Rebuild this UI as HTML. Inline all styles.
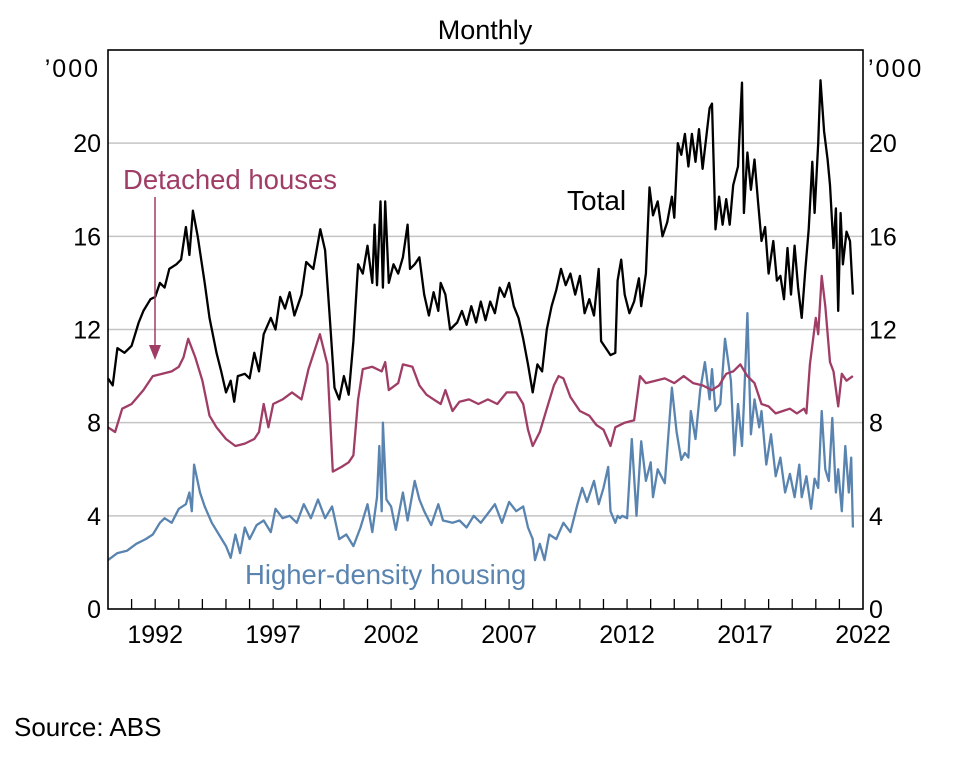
<!DOCTYPE html>
<html><head><meta charset="utf-8">
<style>
body{margin:0;background:#fff;}
svg text{font-family:"Liberation Sans",sans-serif;}
</style></head>
<body>
<svg width="976" height="764" viewBox="0 0 976 764" xmlns="http://www.w3.org/2000/svg">
<g id="grid"></g>
<g id="series"></g>
<rect x="108" y="50" width="755" height="559" fill="none" stroke="#000" stroke-width="1.6"/>
<g id="ticks"></g>
<g id="ylabels"></g>
<text x="485" y="39" font-size="27" text-anchor="middle">Monthly</text>
<text x="100" y="77" font-size="25" letter-spacing="2" text-anchor="end">’000</text>
<text x="868" y="77" font-size="25" letter-spacing="2" text-anchor="start">’000</text>
<text x="123" y="189" font-size="27.5" fill="#a03d66">Detached houses</text>
<line x1="155" y1="197" x2="155" y2="348" stroke="#a03d66" stroke-width="1.5"/>
<polygon points="149,345 161,345 155,360" fill="#a03d66"/>
<text x="567" y="210" font-size="28" fill="#000">Total</text>
<text x="245" y="584" font-size="27.5" fill="#5a84b0">Higher-density housing</text>
<text x="14" y="736" font-size="26">Source: ABS</text>
</svg>
<script>
const tickYears=[1992,1997,2002,2007,2012,2017,2022];
const yTicks=[0,4,8,12,16,20];
const totalYears=[1990.0,1990.2,1990.4,1990.7,1991.0,1991.3,1991.5,1991.8,1992.0,1992.2,1992.4,1992.6,1992.9,1993.1,1993.3,1993.45,1993.6,1993.8,1994.1,1994.3,1994.6,1994.8,1995.0,1995.2,1995.35,1995.5,1995.8,1996.0,1996.2,1996.4,1996.6,1996.9,1997.1,1997.3,1997.5,1997.7,1997.9,1998.2,1998.4,1998.7,1999.0,1999.2,1999.4,1999.6,1999.8,2000.0,2000.2,2000.4,2000.6,2000.8,2001.0,2001.2,2001.3,2001.4,2001.55,2001.65,2001.75,2001.9,2002.1,2002.3,2002.5,2002.7,2002.8,2003.0,2003.2,2003.4,2003.6,2003.8,2004.0,2004.1,2004.3,2004.5,2004.8,2005.0,2005.2,2005.4,2005.6,2005.8,2006.0,2006.2,2006.4,2006.6,2006.8,2007.0,2007.2,2007.4,2007.6,2007.8,2008.0,2008.2,2008.4,2008.6,2008.8,2009.0,2009.2,2009.4,2009.6,2009.8,2010.0,2010.2,2010.4,2010.6,2010.8,2010.9,2011.1,2011.3,2011.5,2011.6,2011.75,2011.9,2012.1,2012.3,2012.5,2012.6,2012.8,2012.95,2013.1,2013.3,2013.5,2013.7,2013.9,2014.0,2014.15,2014.3,2014.45,2014.6,2014.75,2014.9,2015.05,2015.2,2015.35,2015.5,2015.6,2015.75,2015.9,2016.05,2016.2,2016.35,2016.5,2016.7,2016.87,2016.95,2017.1,2017.25,2017.4,2017.55,2017.7,2017.85,2018.0,2018.2,2018.35,2018.5,2018.65,2018.8,2018.95,2019.1,2019.25,2019.4,2019.55,2019.7,2019.85,2019.95,2020.1,2020.2,2020.35,2020.5,2020.6,2020.75,2020.85,2020.95,2021.05,2021.15,2021.3,2021.45,2021.57];
const totalValues=[9.9,9.6,11.2,11.0,11.3,12.3,12.8,13.3,13.4,14.0,13.8,14.6,14.8,15.0,16.4,15.2,17.1,16.0,14.0,12.5,11.0,10.2,9.3,9.8,8.9,10.0,10.1,9.9,11.0,10.2,11.8,12.5,12.0,13.4,12.9,13.6,12.6,13.5,14.9,14.6,16.3,15.4,12.5,9.5,9.0,10.0,9.2,11.5,14.8,14.4,15.6,14.0,16.5,13.9,17.5,13.8,17.5,14.0,14.8,14.4,15.1,16.5,14.6,14.8,15.1,13.5,12.6,13.6,12.8,14.0,13.5,12.0,12.3,12.8,12.2,13.0,12.3,13.2,12.4,13.2,12.7,13.8,13.4,14.0,13.0,12.5,11.6,10.5,9.3,10.5,10.2,12.0,13.0,13.7,14.6,13.9,14.4,13.5,14.3,12.7,13.3,12.6,14.6,11.5,11.2,10.9,11.0,14.1,15.0,13.5,12.7,13.2,14.2,13.0,14.4,18.1,16.9,17.5,16.0,16.6,17.7,16.8,20.0,19.5,20.4,19.0,20.4,19.2,20.6,18.9,20.2,21.5,21.7,16.3,17.7,16.5,17.6,16.5,18.2,19.0,22.6,17.0,19.6,18.0,19.3,17.5,15.8,16.4,14.4,15.8,14.1,14.3,13.3,15.5,13.5,15.6,13.8,12.5,14.5,16.3,19.2,17.0,20.0,22.7,20.5,19.3,18.2,15.5,17.2,12.8,17.0,14.8,16.2,15.8,13.5];
const detachedYears=[1990.0,1990.3,1990.6,1991.0,1991.5,1991.9,1992.3,1992.7,1993.0,1993.2,1993.4,1993.7,1994.0,1994.3,1994.6,1995.0,1995.4,1995.8,1996.2,1996.4,1996.6,1996.8,1997.0,1997.4,1997.8,1998.2,1998.5,1998.98,1999.3,1999.53,1999.9,2000.2,2000.4,2000.6,2000.8,2001.2,2001.6,2001.75,2001.9,2002.3,2002.5,2002.9,2003.2,2003.5,2003.8,2004.1,2004.3,2004.6,2004.9,2005.3,2005.7,2006.1,2006.5,2006.9,2007.3,2007.6,2007.8,2008.0,2008.3,2008.6,2008.9,2009.1,2009.3,2009.6,2010.0,2010.4,2010.7,2011.0,2011.3,2011.5,2011.9,2012.3,2012.55,2012.8,2013.2,2013.6,2014.0,2014.4,2014.8,2015.2,2015.6,2015.9,2016.2,2016.5,2016.8,2017.1,2017.4,2017.7,2018.0,2018.3,2018.6,2018.9,2019.2,2019.5,2019.6,2019.75,2020.0,2020.1,2020.25,2020.4,2020.6,2020.75,2020.95,2021.1,2021.3,2021.57];
const detachedValues=[7.8,7.6,8.6,8.8,9.4,10.0,10.1,10.2,10.4,10.8,11.6,10.8,9.8,8.3,7.8,7.3,7.0,7.1,7.3,7.6,8.8,7.8,8.8,9.0,9.3,9.0,10.3,11.8,10.5,5.9,6.1,6.3,6.6,9.0,10.3,10.4,10.2,10.6,9.4,9.7,10.5,10.4,9.6,9.2,9.0,8.8,9.4,8.5,8.9,9.0,8.8,9.0,8.8,9.3,9.3,8.8,7.7,7.0,7.6,8.6,9.6,10.0,9.9,9.1,8.5,8.3,7.9,7.7,7.0,7.8,8.0,8.1,10.0,9.7,9.8,9.9,9.7,10.0,9.7,9.6,9.4,9.6,10.1,10.2,10.5,10.0,9.7,8.8,8.7,8.4,8.5,8.6,8.4,8.6,8.4,10.5,12.5,11.8,14.3,13.0,10.6,10.2,8.7,10.1,9.8,10.0];
const densityYears=[1990.0,1990.4,1990.8,1991.2,1991.6,1991.9,1992.2,1992.4,1992.7,1993.0,1993.3,1993.45,1993.55,1993.65,1993.9,1994.1,1994.4,1994.7,1995.0,1995.2,1995.4,1995.6,1995.8,1996.0,1996.3,1996.6,1996.9,1997.1,1997.4,1997.7,1998.0,1998.3,1998.6,1998.9,1999.2,1999.5,1999.8,2000.1,2000.4,2000.7,2001.0,2001.2,2001.4,2001.5,2001.6,2001.65,2001.8,2002.0,2002.2,2002.5,2002.7,2003.0,2003.2,2003.4,2003.7,2004.0,2004.2,2004.6,2004.9,2005.2,2005.5,2005.8,2006.1,2006.4,2006.7,2007.0,2007.3,2007.6,2007.8,2008.0,2008.1,2008.3,2008.5,2008.7,2009.0,2009.3,2009.6,2009.9,2010.1,2010.3,2010.6,2010.8,2011.0,2011.2,2011.3,2011.5,2011.6,2011.7,2011.8,2012.0,2012.2,2012.4,2012.6,2012.8,2013.0,2013.1,2013.3,2013.6,2013.9,2014.1,2014.3,2014.45,2014.6,2014.7,2014.9,2015.1,2015.3,2015.5,2015.6,2015.75,2015.95,2016.15,2016.4,2016.55,2016.7,2016.87,2016.95,2017.1,2017.25,2017.4,2017.6,2017.7,2017.9,2018.1,2018.3,2018.5,2018.7,2018.9,2019.1,2019.3,2019.4,2019.6,2019.8,2019.95,2020.1,2020.25,2020.4,2020.55,2020.7,2020.85,2020.95,2021.1,2021.25,2021.4,2021.5,2021.57];
const densityValues=[2.1,2.4,2.5,2.8,3.0,3.2,3.7,3.9,3.7,4.3,4.5,5.0,4.2,6.2,5.0,4.4,3.7,3.2,2.7,2.2,3.2,2.4,3.5,3.0,3.6,3.8,3.3,4.3,3.9,4.0,3.7,4.5,3.9,4.7,3.9,4.4,3.0,3.2,2.7,3.5,4.5,3.3,4.8,7.0,4.2,8.0,4.7,4.4,3.4,5.0,3.8,5.5,4.7,4.2,3.6,4.5,3.8,3.7,3.8,3.5,4.0,3.7,4.1,4.5,3.7,4.6,4.2,4.4,3.5,3.0,2.1,2.8,2.1,3.2,3.0,3.7,3.3,4.5,5.2,4.6,5.5,4.5,5.2,6.1,4.2,3.7,4.0,3.9,4.0,3.9,7.3,4.0,7.2,5.5,6.3,4.8,6.0,5.4,9.5,7.6,6.4,6.7,6.5,8.5,7.3,9.4,10.6,9.0,10.3,8.5,8.8,11.6,9.8,6.6,8.8,7.0,8.8,12.7,7.5,9.0,7.8,8.5,6.2,7.5,5.7,6.5,5.0,5.8,4.8,6.2,4.8,5.7,4.3,5.6,5.2,8.5,6.0,5.5,8.2,5.0,6.0,4.2,7.0,5.0,6.5,3.5];

const NS='http://www.w3.org/2000/svg';
const L=108,R=863,T=50,B=609;
function xs(y){return L+(y-1990)*(R-L)/32;}
function ys(v){return B-v*(B-T)/24;}
const grid=document.getElementById('grid');
yTicks.forEach(v=>{
  if(v===0)return;
  const ln=document.createElementNS(NS,'line');
  ln.setAttribute('x1',L);ln.setAttribute('x2',R);
  ln.setAttribute('y1',ys(v));ln.setAttribute('y2',ys(v));
  ln.setAttribute('stroke','#c4c4c4');ln.setAttribute('stroke-width','1.5');
  
  
  grid.appendChild(ln);
});
const yl=document.getElementById('ylabels');
yTicks.forEach(v=>{
  [['end',101,'left'],['start',869,'right']].forEach(([anc,x,side])=>{
    const t=document.createElementNS(NS,'text');
    t.setAttribute('x',x);t.setAttribute('y',ys(v)+9);
    t.setAttribute('font-size','25');t.setAttribute('text-anchor',anc);
    t.textContent=v;
    
    
    yl.appendChild(t);
  });
});
const tk=document.getElementById('ticks');
for(let yr=1991;yr<=2021;yr++){
  const ln=document.createElementNS(NS,'line');
  ln.setAttribute('x1',xs(yr));ln.setAttribute('x2',xs(yr));
  ln.setAttribute('y1',B);ln.setAttribute('y2',B-10);
  ln.setAttribute('stroke','#000');ln.setAttribute('stroke-width','1.3');
  
  
  tk.appendChild(ln);
}
tickYears.forEach(yr=>{
  const t=document.createElementNS(NS,'text');
  t.setAttribute('x',xs(yr));t.setAttribute('y',643);
  t.setAttribute('font-size','25');t.setAttribute('text-anchor','middle');
  t.textContent=yr;
  
  
  tk.appendChild(t);
});
const sg=document.getElementById('series');
function draw(xsArr,vals,color,name){
  const p=document.createElementNS(NS,'path');
  p.setAttribute('d',xsArr.map((y,i)=>(i?'L':'M')+xs(y).toFixed(1)+','+ys(vals[i]).toFixed(1)).join(''));
  p.setAttribute('fill','none');p.setAttribute('stroke',color);
  p.setAttribute('stroke-width','2.3');p.setAttribute('stroke-linejoin','round');
  
  
  sg.appendChild(p);
}
draw(densityYears,densityValues,'#5a84b0','higher-density-line');
draw(detachedYears,detachedValues,'#a03d66','detached-houses-line');
draw(totalYears,totalValues,'#000','total-line');
</script>
</body></html>
